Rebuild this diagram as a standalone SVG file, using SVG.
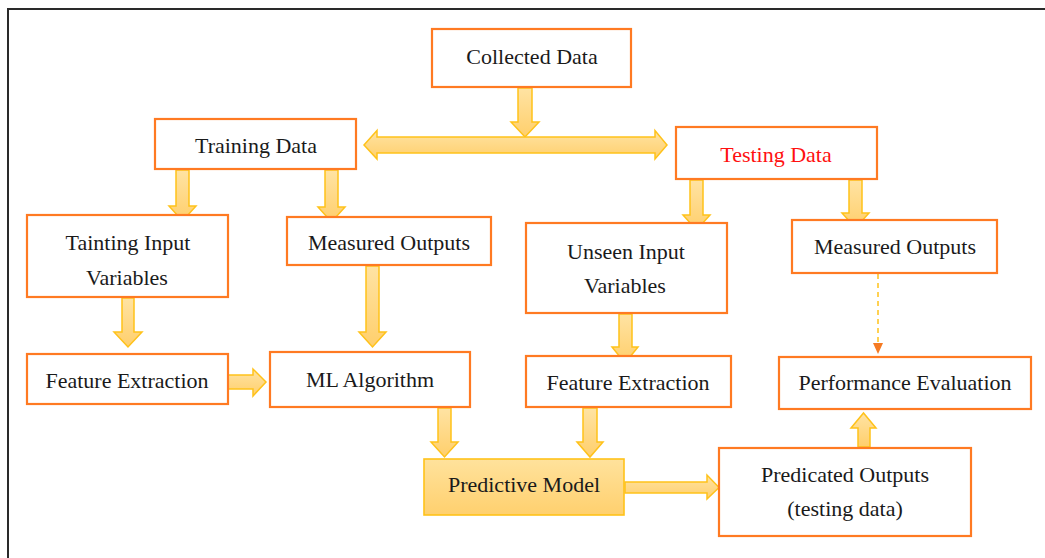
<svg xmlns="http://www.w3.org/2000/svg" width="1045" height="558" viewBox="0 0 1045 558">
<defs>
<linearGradient id="ag" x1="0" y1="0" x2="0" y2="1">
<stop offset="0" stop-color="#FFE3A3"/>
<stop offset="1" stop-color="#FFCF6C"/>
</linearGradient>
<linearGradient id="pg" x1="0" y1="0" x2="0" y2="1">
<stop offset="0" stop-color="#FFE29C"/>
<stop offset="1" stop-color="#FFD06E"/>
</linearGradient>
<style>
.box{fill:#ffffff;stroke:#FF7A22;stroke-width:2.2}
.pm{fill:url(#pg);stroke:#FFC21A;stroke-width:1.6}
.arr{fill:url(#ag);stroke:#FFC21A;stroke-width:1.5;stroke-linejoin:miter}
.t{font-family:"Liberation Serif","DejaVu Serif",serif;font-size:22px;fill:#1a1a1a;text-anchor:middle}
.red{fill:#FF1010}
</style>
</defs>
<rect width="1045" height="558" fill="#ffffff"/>
<rect x="8" y="9" width="1100" height="600" fill="none" stroke="#2a2a2a" stroke-width="2"/>

<g id="connectors">
<path class="arr" d="M518,88 H532 V122 H539 L525,137 L511,122 H518 Z"/>
<path class="arr" d="M364,145 L377,130.5 V137 H655 V130.5 L667,145 L655,159 V153 H377 V159 Z"/>
<path class="arr" d="M176,170 H189 V206 H196 L182.5,221 L169,206 H176 Z"/>
<path class="arr" d="M325,170 H338 V207 H345 L331.5,222 L318,207 H325 Z"/>
<path class="arr" d="M690,180 H703 V215 H710 L696.5,230 L683,215 H690 Z"/>
<path class="arr" d="M849,180 H862 V213 H869 L855.5,228 L842,213 H849 Z"/>
<path class="arr" d="M122,298 H134 V332 H142 L128,347 L114,332 H122 Z"/>
<path class="arr" d="M366,266 H379 V332 H386 L372.5,347 L359,332 H366 Z"/>
<path class="arr" d="M228,375 H253 V369 L266,382 L253,396 V389 H228 Z"/>
<path class="arr" d="M619,314 H632 V347 H638 L625,363 L612,347 H619 Z"/>
<path class="arr" d="M438,408 H451 V442 H458 L444.5,457 L431,442 H438 Z"/>
<path class="arr" d="M583,408 H597 V442 H603 L590,457 L577,442 H583 Z"/>
<path class="arr" d="M625,482 H707 V475 L719,487.5 L707,499 V493 H625 Z"/>
<path class="arr" d="M858,447 V428 H851 L863.5,413 L876,428 H870 V447 Z"/>
<line x1="878" y1="274" x2="878" y2="344" stroke="#FFC21A" stroke-width="1.5" stroke-dasharray="5,4"/>
<path d="M873,343 L883,343 L878,354 Z" fill="#F57A22"/>
</g>

<g id="collected-data">
<rect class="box" x="432" y="29" width="199" height="58"/>
<text class="t" x="532" y="64">Collected Data</text>
</g>
<g id="training-data">
<rect class="box" x="155" y="119" width="201" height="50"/>
<text class="t" x="256" y="153">Training Data</text>
</g>
<g id="testing-data">
<rect class="box" x="676" y="127" width="201" height="52"/>
<text class="t red" x="776" y="162">Testing Data</text>
</g>
<g id="tainting-input">
<rect class="box" x="27" y="215" width="201" height="82"/>
<text class="t" x="128" y="250">Tainting Input</text>
<text class="t" x="127" y="285">Variables</text>
</g>
<g id="measured-outputs-left">
<rect class="box" x="287" y="217" width="204" height="48"/>
<text class="t" x="389" y="250">Measured Outputs</text>
</g>
<g id="unseen-input">
<rect class="box" x="526" y="223" width="201" height="90"/>
<text class="t" x="626" y="259">Unseen Input</text>
<text class="t" x="625" y="293">Variables</text>
</g>
<g id="measured-outputs-right">
<rect class="box" x="792" y="220" width="205" height="53"/>
<text class="t" x="895" y="254">Measured Outputs</text>
</g>
<g id="feature-extraction-left">
<rect class="box" x="27" y="354" width="201" height="50"/>
<text class="t" x="127" y="388">Feature Extraction</text>
</g>
<g id="ml-algorithm">
<rect class="box" x="270" y="352" width="200" height="55"/>
<text class="t" x="370" y="387">ML Algorithm</text>
</g>
<g id="feature-extraction-right">
<rect class="box" x="526" y="356" width="205" height="51"/>
<text class="t" x="628" y="390">Feature Extraction</text>
</g>
<g id="performance-evaluation">
<rect class="box" x="779" y="357" width="252" height="52"/>
<text class="t" x="905" y="390">Performance Evaluation</text>
</g>
<g id="predictive-model">
<rect class="pm" x="424" y="459" width="200" height="56"/>
<text class="t" x="524" y="492">Predictive Model</text>
</g>
<g id="predicated-outputs">
<rect class="box" x="719" y="448" width="252" height="88"/>
<text class="t" x="845" y="482">Predicated Outputs</text>
<text class="t" x="845" y="516">(testing data)</text>
</g>
</svg>
